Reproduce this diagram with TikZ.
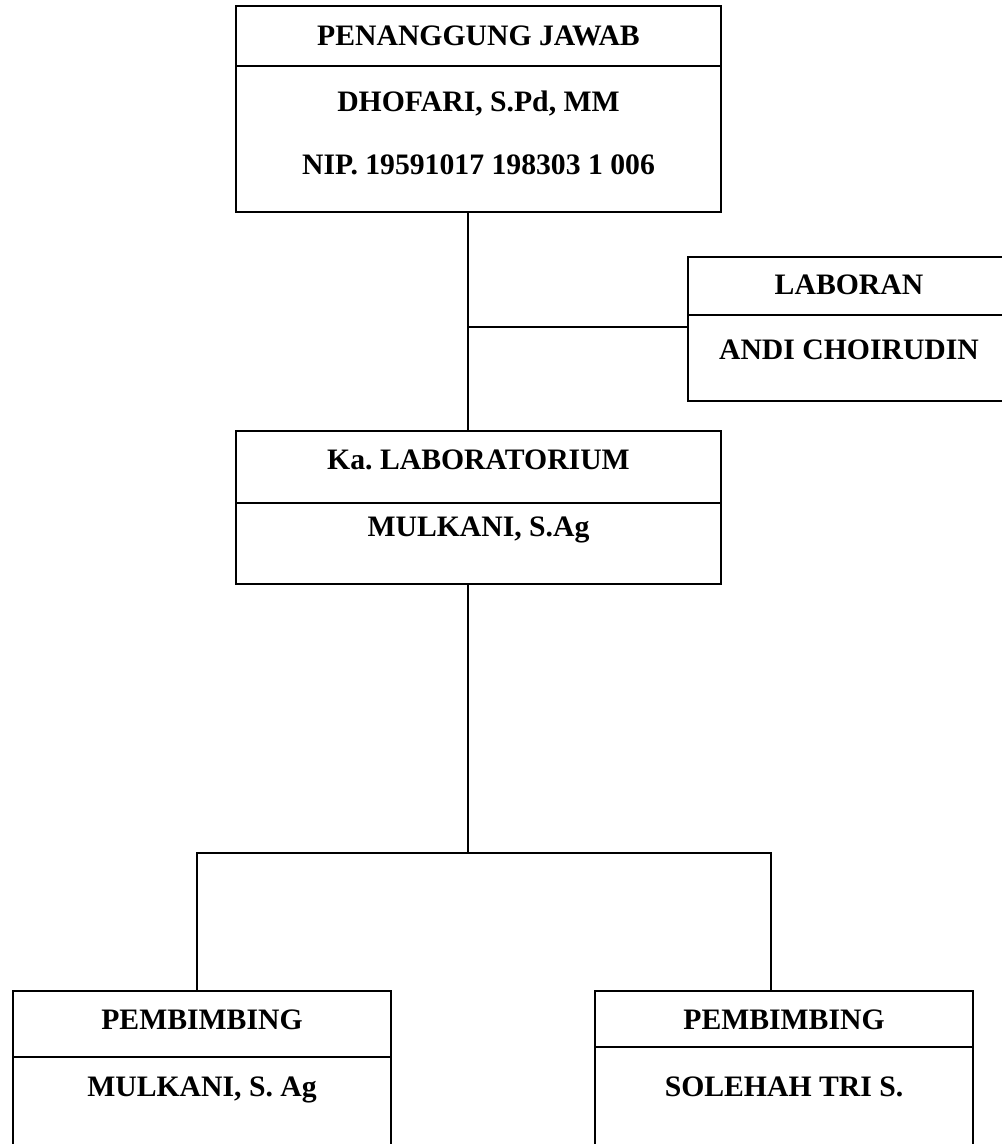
\documentclass[tikz,border=0pt]{standalone}
\usepackage{fontspec}
\setmainfont{Liberation Serif}

\begin{document}
\begin{tikzpicture}[
    x=1pt, y=-1pt,
    cell/.style={
        draw, line width=2pt, rectangle, anchor=north west,
        inner sep=0pt, outer sep=0pt, minimum width=#1,
    },
    txt/.style={
        font=\frenchspacing\bfseries\fontsize{29.7pt}{35pt}\selectfont,
        inner sep=0pt, text height=19.5pt, text depth=0pt,
    },
    link/.style={line width=1.6pt},
]

\useasboundingbox (0,0) rectangle (1002,1144);
\clip (0,0) rectangle (1002,1144);

% ════════════════════════════════════════
% Penanggung jawab
% ════════════════════════════════════════
\node[cell=485pt, minimum height=60pt] (pjhead) at (236,6) {};
\node[cell=485pt, minimum height=146pt] (pjbody) at (236,66) {};
\node[txt] (pjtitle) at (478.5,36) {PENANGGUNG JAWAB};
\node[txt] (pjname) at (478.5,102) {DHOFARI, S.Pd, MM};
\node[txt] (pjnip) at (478.5,165) {NIP. 19591017 198303 1 006};

% ════════════════════════════════════════
% Laboran
% ════════════════════════════════════════
\node[cell=322pt, minimum height=58pt] (labhead) at (688,257) {};
\node[cell=322pt, minimum height=86pt] (labbody) at (688,315) {};
\node[txt] (labtitle) at (849,285) {LABORAN};
\node[txt] (labname) at (849,350) {ANDI CHOIRUDIN};

% ════════════════════════════════════════
% Ka. Laboratorium
% ════════════════════════════════════════
\node[cell=485pt, minimum height=72pt] (kalabhead) at (236,431) {};
\node[cell=485pt, minimum height=81pt] (kalabbody) at (236,503) {};
\node[txt] (kalabtitle) at (478.5,460) {Ka. LABORATORIUM};
\node[txt] (kalabname) at (478.5,527) {MULKANI, S.Ag};

% ════════════════════════════════════════
% Pembimbing (left and right)
% ════════════════════════════════════════
\node[cell=378pt, minimum height=66pt] (pbhead1) at (13,991) {};
\node[cell=378pt, minimum height=120pt] (pbbody1) at (13,1057) {};
\node[txt] (pbtitle1) at (202,1020) {PEMBIMBING};
\node[txt] (pbname1) at (202,1087) {MULKANI, S. Ag};

\node[cell=378pt, minimum height=56pt] (pbhead2) at (595,991) {};
\node[cell=378pt, minimum height=130pt] (pbbody2) at (595,1047) {};
\node[txt] (pbtitle2) at (784,1020) {PEMBIMBING};
\node[txt] (pbname2) at (784,1087) {SOLEHAH TRI S.};

% ════════════════════════════════════════
% Connectors
% ════════════════════════════════════════
\coordinate (trunk) at (468,212);
\coordinate (labjoin) at (468,327);
\coordinate (forkL) at (197,853);
\coordinate (forkR) at (771,853);

% penanggung jawab → ka. lab, side branch to laboran
\draw[link] (trunk) -- (trunk |- kalabhead.north);
\draw[link] (labjoin) -- (labjoin -| labbody.west);

% ka. lab → pembimbing
\draw[link] (trunk |- kalabbody.south) -- (trunk |- forkL);
\draw[link] (forkL |- pbhead1.north) -- (forkL) -- (forkR) -- (forkR |- pbhead2.north);

\end{tikzpicture}
\end{document}
